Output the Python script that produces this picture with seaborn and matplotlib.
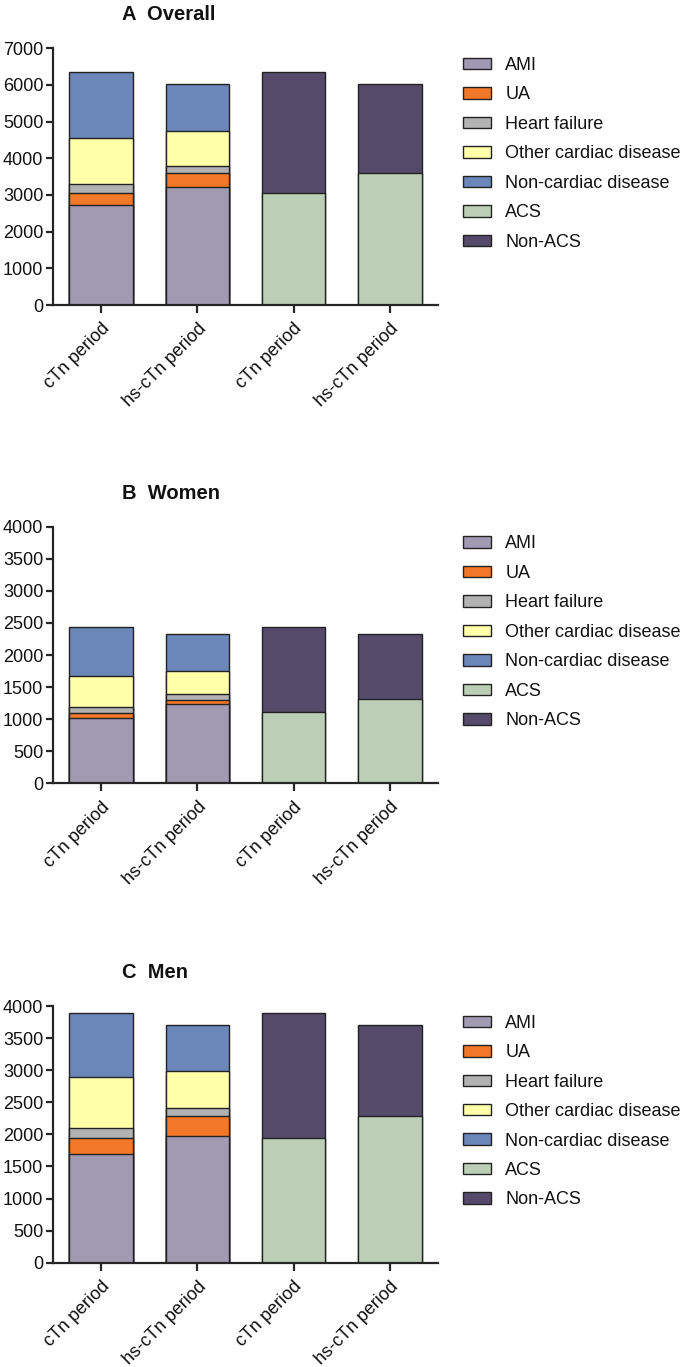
import matplotlib
matplotlib.use("Agg")
import matplotlib.pyplot as plt
from matplotlib.patches import Patch
import seaborn as sns
import pandas as pd
import numpy as np

# panels and periods
panels = ["A  Overall", "B  Women", "C  Men"]
periods = ["cTn period", "hs-cTn period", "cTn period", "hs-cTn period"]
bar_keys = ["dx_cTn", "dx_hs", "acs_cTn", "acs_hs"]

# discharge diagnosis counts, [cTn period, hs-cTn period] per panel
ami = [[2727, 3227], [1013, 1231], [1694, 1979]]
ua = [[318, 363], [88, 68], [254, 307]]
heart_failure = [[245, 200], [83, 93], [146, 119]]
other_cardiac = [[1274, 965], [489, 364], [794, 587]]
non_cardiac = [[1781, 1281], [767, 574], [998, 715]]

# ACS / non-ACS counts, [cTn period, hs-cTn period] per panel
acs = [[3050, 3591], [1105, 1320], [1950, 2286]]
non_acs = [[3295, 2444], [1335, 1010], [1936, 1421]]

ymax = [7000, 4000, 4000]
ystep = [1000, 500, 500]

dx_labels = ["AMI", "UA", "Heart failure", "Other cardiac disease", "Non-cardiac disease"]
dx_colors = ["#a09ab2", "#f07828", "#b2b2b2", "#ffffaa", "#6b86b9"]
acs_labels = ["ACS", "Non-ACS"]
acs_colors = ["#bccfb6", "#554a6a"]

sns.set_style("ticks")
plt.rcParams["font.family"] = ["Liberation Sans", "DejaVu Sans"]
plt.rcParams["axes.linewidth"] = 1.6
plt.rcParams["xtick.major.width"] = 1.6
plt.rcParams["ytick.major.width"] = 1.6
plt.rcParams["xtick.major.size"] = 6
plt.rcParams["ytick.major.size"] = 5

W, H = 685, 1367
fig = plt.figure(figsize=(W / 100, H / 100), dpi=100)

ax_tops = [48.3, 526.7, 1006.0]
ax_h = 256.7
ax_left, ax_right = 53, 438

bar_kw = dict(width=0.66, saturation=1, edgecolor="#222222", linewidth=1.0,
              errorbar=None)

for i, title in enumerate(panels):
    top = ax_tops[i]
    ax = fig.add_axes([ax_left / W, 1 - (top + ax_h) / H,
                       (ax_right - ax_left) / W, ax_h / H])

    # stacked diagnosis bars: draw cumulative totals from the top segment down
    segs = np.array([ami[i], ua[i], heart_failure[i], other_cardiac[i], non_cardiac[i]])
    cum = np.cumsum(segs, axis=0)
    for k in reversed(range(len(dx_labels))):
        df = pd.DataFrame({"bar": bar_keys[:2], "n": cum[k]})
        sns.barplot(data=df, x="bar", y="n", order=bar_keys, color=dx_colors[k],
                    ax=ax, **bar_kw)

    segs2 = np.array([acs[i], non_acs[i]])
    cum2 = np.cumsum(segs2, axis=0)
    for k in reversed(range(len(acs_labels))):
        df = pd.DataFrame({"bar": bar_keys[2:], "n": cum2[k]})
        sns.barplot(data=df, x="bar", y="n", order=bar_keys, color=acs_colors[k],
                    ax=ax, **bar_kw)

    ax.set_xlim(-0.5, 3.5)
    ax.set_ylim(0, ymax[i])
    ax.set_yticks(np.arange(0, ymax[i] + 1, ystep[i]))
    ax.set_xticks(range(4))
    ax.set_xticklabels(periods, rotation=45, ha="right", va="top",
                       rotation_mode="anchor", fontsize=13, color="#111111")
    ax.tick_params(axis="y", labelsize=13, labelcolor="#111111", pad=2)
    ax.tick_params(axis="x", pad=5)
    ax.set_xlabel("")
    ax.set_ylabel("")
    sns.despine(ax=ax)

    handles = [Patch(facecolor=c, edgecolor="#222222", linewidth=1.0)
               for c in dx_colors + acs_colors]
    ax.legend(handles, dx_labels + acs_labels, loc="upper left",
              bbox_to_anchor=((463 - ax_left) / (ax_right - ax_left), 0.966),
              frameon=False, fontsize=13, borderpad=0, borderaxespad=0,
              handlelength=1.55, handleheight=0.6, handletextpad=0.8,
              labelspacing=0.69, labelcolor="#111111")

    fig.text(122 / W, 1 - (top - 28) / H, title, ha="left", va="baseline",
             fontsize=14.5, fontweight="bold", color="#111111",
             family=["Liberation Sans Narrow", "Liberation Sans", "DejaVu Sans"])

fig.savefig("out.png", dpi=100)
